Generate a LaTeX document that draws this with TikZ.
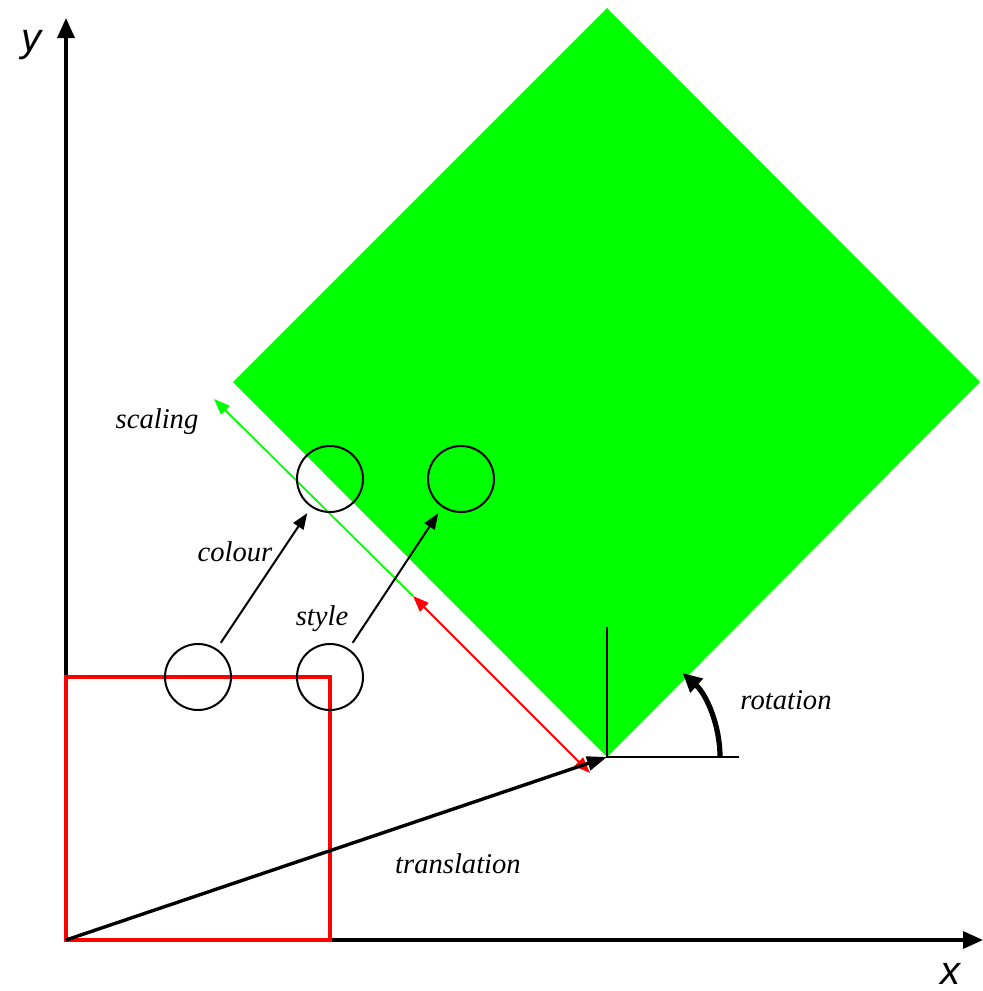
\documentclass[tikz,border=0pt]{standalone}
\usepackage{fontspec}
\setmainfont{Liberation Serif}
\setsansfont{Liberation Sans}
\usetikzlibrary{arrows.meta}
\definecolor{pureGreen}{RGB}{0,255,0}
\definecolor{pureRed}{RGB}{255,0,0}
\begin{document}
\begin{tikzpicture}[
    x=0.5pt, y=-0.5pt,
    axis/.style={line width=1.7pt, -{Triangle[length=10pt,width=8.5pt]}},
    axisLabel/.style={font=\sffamily\itshape\fontsize{20}{24}\selectfont, inner sep=0pt},
    opLabel/.style={font=\itshape\fontsize{14.3}{17}\selectfont, inner sep=0pt},
    ring/.style={circle, draw, line width=1pt, minimum size=33pt, inner sep=0pt},
    link/.style={line width=1pt, -{Triangle[length=8pt,width=6pt]},
        shorten <=3.5pt, shorten >=3.5pt},
    scaleGreen/.style={pureGreen, line width=0.9pt, -{Triangle[length=8pt,width=6pt]}},
    scaleRed/.style={pureRed, line width=1pt,
        {Triangle[length=8pt,width=6pt]}-{Triangle[length=8pt,width=6pt]}},
    move/.style={line width=1.7pt, -{Triangle[length=10pt,width=7pt]}},
    turn/.style={line width=2.6pt, -{Triangle[length=9.5pt,width=9pt]}}
]
    \useasboundingbox (0,0) rectangle (983,991);

    % --- 1. Transformed square ---
    \coordinate (corner) at (607,757);
    \fill[pureGreen] (607,8) -- (980,382) -- (corner) -- (233,382) -- cycle;

    % --- 2. Axes ---
    \coordinate (origin) at (66,940);
    \coordinate (xEnd) at (983,940);
    \coordinate (yEnd) at (66,18);
    \draw[axis] (origin) -- (xEnd);
    \draw[axis] (origin) -- (yEnd);
    \node[axisLabel] (xLabel) at (950,974) {x};
    \node[axisLabel] (yLabel) at (31,45) {y};

    % --- 3. Original square ---
    \draw[pureRed, line width=2pt] (origin) rectangle (330,677);

    % --- 4. Scaling ---
    \coordinate (scaleEnd) at (214,399);
    \coordinate (scaleMid) at (413,596);
    \coordinate (scaleStart) at (590,773);
    \draw[scaleGreen] (scaleMid) -- (scaleEnd);
    \draw[scaleRed] (scaleMid) -- (scaleStart);
    \node[opLabel] (scaleLabel) at (157,422) {scaling};

    % --- 5. Colour and style ---
    \node[ring] (ringA) at (198,677) {};
    \node[ring] (ringB) at (330,677) {};
    \node[ring] (ringC) at (330,479) {};
    \node[ring] (ringD) at (461,479) {};
    \draw[link] (ringA) -- (ringC);
    \draw[link] (ringB) -- (ringD);
    \node[opLabel] (colourLabel) at (235,552) {colour};
    \node[opLabel] (styleLabel) at (322,619) {style};

    % --- 6. Translation ---
    \draw[move] (origin) -- (corner);
    \node[opLabel] (moveLabel) at (458,864) {translation};

    % --- 7. Rotation ---
    \coordinate (upTick) at (607,627);
    \coordinate (sideTick) at (739,757);
    \draw[line width=1pt] (upTick) -- (corner) -- (sideTick);
    \draw[turn] ([shift={(113,0)}]corner) arc[start angle=0, end angle=-48, radius=113];
    \node[opLabel] (turnLabel) at (786,700) {rotation};
\end{tikzpicture}
\end{document}
